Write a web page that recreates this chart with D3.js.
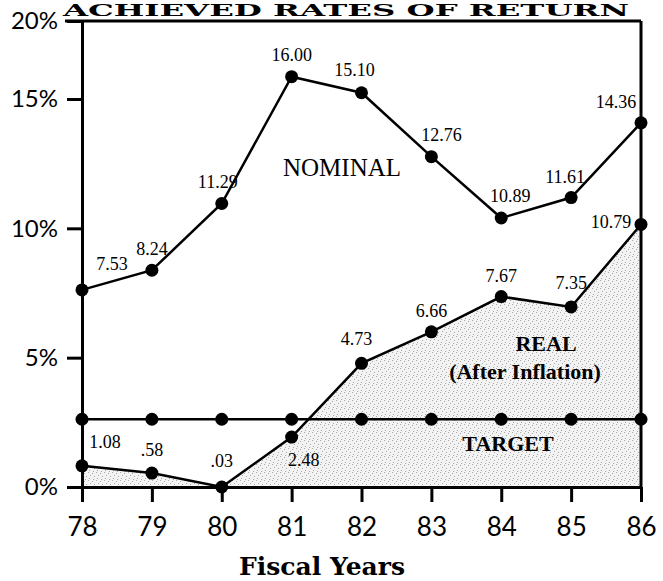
<!DOCTYPE html>
<meta charset="utf-8">
<style>
body { margin: 0; background: white; }
svg { display: block; background: white; }
.axis path, .axis line {
  stroke: black;
  stroke-width: 3;
}
.axis text {
  font-family: Lato, "Open Sans", sans-serif;
  fill: black;
}
.value {
  font-family: "Liberation Serif", serif;
  font-size: 18px;
  fill: black;
}
.series {
  font-family: "Liberation Serif", serif;
  fill: black;
}
</style>
<svg width="663" height="581"></svg>
<script src="https://d3js.org/d3.v7.min.js"></script>
<script>
// fiscal years on x, rates of return (%) on y
var years = ["78", "79", "80", "81", "82", "83", "84", "85", "86"];
var nominal = [7.62, 8.38, 10.96, 16.43, 15.4, 12.77, 10.4, 11.19, 14.08];
var nominalLabels = ["7.53", "8.24", "11.29", "16.00", "15.10", "12.76", "10.89", "11.61", "14.36"];
var real = [0.82, 0.54, 0.0, 1.93, 4.78, 6.0, 7.36, 6.96, 10.15];
var realLabels = ["1.08", ".58", ".03", "2.48", "4.73", "6.66", "7.67", "7.35", "10.79"];
var target = [2.62, 2.62, 2.62, 2.62, 2.62, 2.62, 2.62, 2.62, 2.62];
var yTicks = [0, 5, 10, 15, 20];

// label nudges (layout only)
var nominalOff = [[30,-26],[0,-22],[-4,-22],[0,-22],[-7,-23],[10,-22],[9,-22],[-6,-21],[-25,-21]];
var realOff = [[23,-24],[0,-23],[0,-26],[12,23],[-5,-25],[0,-21],[0,-21],[0,-24],[-30,-3]];

var svg = d3.select("svg");

var x = d3.scalePoint().domain(years).range([82, 641]);
// the original axis is squeezed above 15%
var y = d3.scaleLinear().domain([0, 15, 20]).range([487, 99, 21]);

// stipple for the real-return area
var defs = svg.append("defs");
var pat = defs.append("pattern")
    .attr("id", "stipple")
    .attr("width", 8).attr("height", 8)
    .attr("patternUnits", "userSpaceOnUse");
pat.append("rect").attr("width", 8).attr("height", 8).attr("fill", "#f3f3f3");
[[0,0],[4,1],[2,3],[6,4],[1,6],[5,7]].forEach(function(p) {
  pat.append("rect").attr("x", p[0]).attr("y", p[1])
      .attr("width", 1).attr("height", 1).attr("fill", "#a8a8a8");
});

// title
svg.append("text")
    .attr("x", 346).attr("y", 16)
    .attr("text-anchor", "middle")
    .attr("textLength", 566)
    .attr("lengthAdjust", "spacingAndGlyphs")
    .style("font-family", "'DejaVu Serif', serif")
    .style("font-weight", "bold")
    .style("font-size", "16px")
    .text("ACHIEVED RATES OF RETURN");

svg.append("path")
    .datum(real)
    .attr("fill", "url(#stipple)")
    .attr("d", d3.area()
        .x(function(d, i) { return x(years[i]); })
        .y0(y(0))
        .y1(function(d) { return y(d); }));

// frame: top and right
svg.append("line")
    .attr("x1", 65).attr("x2", x("86"))
    .attr("y1", y(20)).attr("y2", y(20))
    .attr("stroke", "black").attr("stroke-width", 3);
svg.append("line")
    .attr("x1", x("86")).attr("x2", x("86"))
    .attr("y1", y(20)).attr("y2", y(0))
    .attr("stroke", "black").attr("stroke-width", 3);

var line = d3.line()
    .x(function(d, i) { return x(years[i]); })
    .y(function(d) { return y(d); });

[target, real, nominal].forEach(function(s) {
  svg.append("path")
      .datum(s)
      .attr("fill", "none")
      .attr("stroke", "black")
      .attr("stroke-width", 2.5)
      .attr("d", line);
});

var yAxis = svg.append("g")
    .attr("class", "axis")
    .attr("transform", "translate(" + x("78") + ",0)")
    .call(d3.axisLeft(y)
        .tickValues(yTicks)
        .tickSize(15)
        .tickSizeOuter(0)
        .tickPadding(9)
        .tickFormat(function(d) { return d + "%"; }));
yAxis.selectAll("text").style("font-size", "24px");

var xAxis = svg.append("g")
    .attr("class", "axis")
    .attr("transform", "translate(0," + y(0) + ")")
    .call(d3.axisBottom(x)
        .tickSize(15)
        .tickSizeOuter(0)
        .tickPadding(16));
xAxis.selectAll("text").style("font-size", "26px");

[nominal, real, target].forEach(function(s) {
  svg.append("g").selectAll("circle")
      .data(s)
      .enter().append("circle")
        .attr("cx", function(d, i) { return x(years[i]); })
        .attr("cy", function(d) { return y(d); })
        .attr("r", 6.5)
        .attr("fill", "black");
});

function valueLabels(vals, labels, off) {
  svg.append("g").selectAll("text")
      .data(vals)
      .enter().append("text")
        .attr("class", "value")
        .attr("text-anchor", "middle")
        .attr("dy", "0.35em")
        .attr("x", function(d, i) { return x(years[i]) + off[i][0]; })
        .attr("y", function(d, i) { return y(d) + off[i][1]; })
        .text(function(d, i) { return labels[i]; });
}
valueLabels(nominal, nominalLabels, nominalOff);
valueLabels(real, realLabels, realOff);

// series names
svg.append("text").attr("class", "series")
    .attr("x", 342).attr("y", 176)
    .attr("text-anchor", "middle")
    .style("font-size", "25px")
    .text("NOMINAL");
svg.append("text").attr("class", "series")
    .attr("x", 546).attr("y", 351)
    .attr("text-anchor", "middle")
    .style("font-size", "22px").style("font-weight", "bold")
    .text("REAL");
svg.append("text").attr("class", "series")
    .attr("x", 525).attr("y", 379)
    .attr("text-anchor", "middle")
    .style("font-size", "22px").style("font-weight", "bold")
    .text("(After Inflation)");
svg.append("text").attr("class", "series")
    .attr("x", 508).attr("y", 451)
    .attr("text-anchor", "middle")
    .style("font-size", "22px").style("font-weight", "bold")
    .text("TARGET");

svg.append("text")
    .attr("x", 322).attr("y", 575)
    .attr("text-anchor", "middle")
    .style("font-family", "'DejaVu Serif', serif")
    .style("font-size", "25px").style("font-weight", "bold")
    .text("Fiscal Years");
</script>
